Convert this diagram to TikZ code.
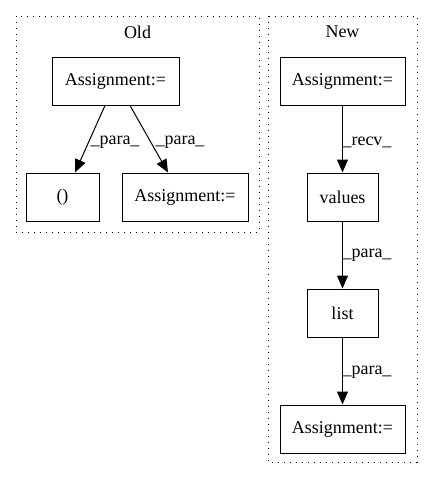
\documentclass[tikz,border=0pt]{standalone}
\usepackage{fontspec}
\setmainfont{Liberation Serif}
\usepackage{tikz}
\usetikzlibrary{arrows.meta,positioning}

\begin{document}
\begin{tikzpicture}[x=1pt,y=-1pt,
        every node/.style={font=\fontsize{18}{20}\selectfont},
        box/.style={draw,line width=1pt,minimum height=48pt,inner sep=0pt},
        cluster/.style={draw,line width=1pt,dash pattern=on 1.3pt off 4.7pt},
        lbl/.style={inner sep=0pt},
        edge/.style={draw,line width=1pt,-{Triangle[length=13pt,width=11pt]}}]
        \useasboundingbox (0,0) rectangle (432,480);
        \begin{scope}
            % Old
            \draw[cluster] (16,16) rectangle (259,232);
            \node (oldtitle) at (137.5,32) {Old};
            \node[box,minimum width=127pt] (oldassign) at (115.5,81) {Assignment:=};
            \node[box,minimum width=73pt] (oldparen) at (62.5,197) {()};
            \node[box,minimum width=126pt] (oldres) at (185,197) {Assignment:=};
        \end{scope}
        \begin{scope}
            % New
            \draw[cluster] (268,16) rectangle (417,462);
            \node (newtitle) at (342.5,32) {New};
            \node[box,minimum width=125pt] (newassign) at (342.5,81) {Assignment:=};
            \node[box,minimum width=71pt] (values) at (342.5,197) {values};
            \node[box,minimum width=71pt] (list) at (342.5,313) {list};
            \node[box,minimum width=125pt] (newres) at (342.5,429) {Assignment:=};
        \end{scope}
        \draw[edge] (oldassign.south -| 105,0) to (oldparen.north -| 75,0);
        \draw[edge] (oldassign.south -| 130,0) to (oldres.north -| 168,0);
        \draw[edge] (newassign) to (values);
        \draw[edge] (values) to (list);
        \draw[edge] (list) to (newres);
        \node[lbl] (l1) at (115,142) {\_para\_};
        \node[lbl] (l2) at (180,142) {\_para\_};
        \node[lbl] (l3) at (367,142) {\_recv\_};
        \node[lbl] (l4) at (367,255) {\_para\_};
        \node[lbl] (l5) at (367,372) {\_para\_};
    \end{tikzpicture}
\end{document}
